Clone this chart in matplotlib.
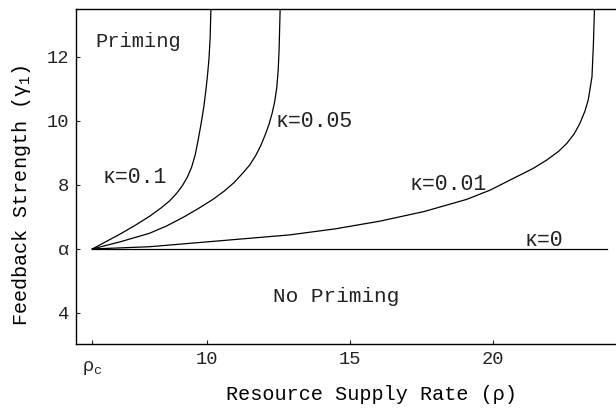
"""
Priming boundary: feedback strength vs resource supply rate for several kappa.
"""

import matplotlib
matplotlib.use("Agg")
import matplotlib.pyplot as plt
import matplotlib.transforms as mtrans

OUT_PATH = "out.png"

# curve points (rho, gamma_1)
rho_k01 = [6.0, 6.5, 7.0, 7.5, 8.0, 8.4, 8.7, 8.95, 9.15, 9.32, 9.47, 9.60,
           9.71, 9.81, 9.90, 9.97, 10.03, 10.08, 10.12, 10.15]
gam_k01 = [6.0, 6.24, 6.48, 6.74, 7.02, 7.28, 7.50, 7.74, 7.98, 8.24, 8.55, 8.95,
           9.45, 9.95, 10.45, 10.95, 11.45, 11.95, 12.6, 13.6]

rho_k005 = [6.0, 7.0, 8.0, 8.6, 9.2, 9.7, 10.2, 10.6, 10.95, 11.25, 11.5, 11.72,
            11.9, 12.05, 12.18, 12.29, 12.38, 12.45, 12.50, 12.53, 12.55, 12.57]
gam_k005 = [6.0, 6.23, 6.49, 6.72, 7.0, 7.26, 7.54, 7.8, 8.07, 8.36, 8.62, 8.93,
            9.25, 9.58, 9.90, 10.25, 10.62, 11.05, 11.6, 12.2, 12.9, 13.6]

rho_k001 = [6.0, 8.0, 10.65, 12.9, 14.5, 16.06, 17.6, 19.09, 19.91, 20.84, 21.4,
            21.89, 22.3, 22.59, 22.85, 23.05, 23.22, 23.34, 23.47, 23.52, 23.56]
gam_k001 = [6.0, 6.07, 6.27, 6.44, 6.63, 6.87, 7.17, 7.55, 7.84, 8.26, 8.51,
            8.78, 9.05, 9.30, 9.6, 9.93, 10.3, 10.66, 11.38, 12.4, 13.6]

rho_k0 = [6.0, 24.0]
gam_k0 = [6.0, 6.0]

y_ticks = [4, 6, 8, 10, 12]
y_labels = ["4", "α", "8", "10", "12"]
x_ticks = [6, 10, 15, 20]
x_labels = [r"ρ$_\mathrm{c}$", "10", "15", "20"]

plt.rcParams.update({
    "font.family": ["Liberation Mono", "DejaVu Sans"],
    "mathtext.fontset": "custom",
    "mathtext.rm": "Liberation Mono",
    "mathtext.it": "Liberation Mono",
    "text.color": "#222222",
})

fig = plt.figure(figsize=(6.16, 4.08), dpi=100)
ax = fig.add_axes([76/616, 64/408, 540/616, 335/408])

for xs, ys in [(rho_k01, gam_k01), (rho_k005, gam_k005),
               (rho_k001, gam_k001), (rho_k0, gam_k0)]:
    ax.plot(xs, ys, color="black", lw=0.9, solid_joinstyle="round")

ax.set_xlim(5.43, 24.31)
ax.set_ylim(3.03, 13.5)

# labels inside the plot
ax.text(6.09, 12.47, "Priming", fontsize=14.8, va="center", ha="left")
ax.text(14.52, 4.5, "No Priming", fontsize=15.2, va="center", ha="center")
ax.text(6.37, 8.22, "κ=0.1", fontsize=15.5, va="center", ha="left")
ax.text(12.42, 9.97, "κ=0.05", fontsize=15.5, va="center", ha="left")
ax.text(17.1, 8.03, "κ=0.01", fontsize=15.5, va="center", ha="left")
ax.text(21.11, 6.28, "κ=0", fontsize=15.5, va="center", ha="left")

ax.set_xticks(x_ticks)
ax.set_xticklabels(x_labels, fontsize=13.5)
ax.set_yticks(y_ticks)
ax.set_yticklabels(y_labels, fontsize=13.5)
ax.tick_params(direction="in", length=3, width=0.8, pad=5, colors="#222222")

# rho_c sits a little lower than the numbers
rc = ax.get_xticklabels()[0]
rc.set_transform(rc.get_transform()
                 + mtrans.ScaledTranslation(0, -6/72, fig.dpi_scale_trans))

ax.set_xlabel("Resource Supply Rate (ρ)", fontsize=14.5)
ax.set_ylabel(r"Feedback Strength (γ$_1$)", fontsize=14.5)
ax.xaxis.set_label_coords(0.548, -0.122)
ax.yaxis.set_label_coords(-0.08, 0.445)

ax.spines["right"].set_visible(False)
for s in ["left", "bottom", "top"]:
    ax.spines[s].set_linewidth(1.0)

fig.savefig(OUT_PATH, dpi=100)
print(f"Saved {OUT_PATH}")
